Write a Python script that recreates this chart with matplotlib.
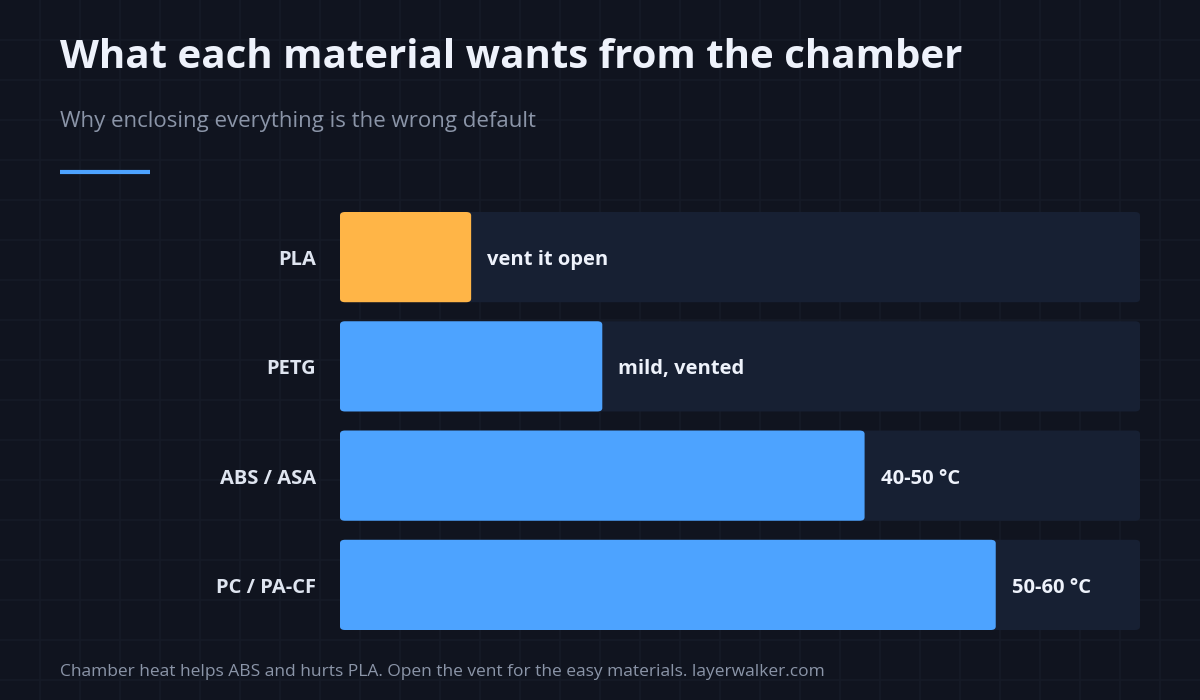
import matplotlib.pyplot as plt
from matplotlib.patches import FancyBboxPatch

materials = ['PLA', 'PETG', 'ABS / ASA', 'PC / PA-CF']
heat_level = [1, 2, 4, 5]
notes = ['vent it open', 'mild, vented', '40-50 °C', '50-60 °C']
bar_colors = ['#ffb547', '#4da3ff', '#4da3ff', '#4da3ff']
x_max = 6.1

plt.rcParams['font.family'] = ['Open Sans', 'Lato', 'DejaVu Sans']

W, H = 1200, 700
fig = plt.figure(figsize=(12, 7), dpi=100)
fig.patch.set_facecolor('#10141f')

# background grid in pixel space
bg = fig.add_axes([0, 0, 1, 1])
bg.set_xlim(0, W)
bg.set_ylim(H, 0)
bg.axis('off')
for gx in range(40, W, 40):
    bg.axvline(gx, color='#161b27', lw=1.2, zorder=0)
for gy in range(40, H, 40):
    bg.axhline(gy, color='#161b27', lw=1.2, zorder=0)

bg.text(60, 58, 'What each material wants from the chamber', color='#eef2fb',
        fontsize=29, fontweight='bold', va='center', ha='left')
bg.text(60, 122, 'Why enclosing everything is the wrong default', color='#8b95a8',
        fontsize=16, va='center', ha='left')
bg.plot([60, 150], [172, 172], color='#4da3ff', lw=3, solid_capstyle='butt')
bg.text(60, 672, 'Chamber heat helps ABS and hurts PLA. Open the vent for the easy materials. layerwalker.com',
        color='#8b95a8', fontsize=12.5, va='center', ha='left')

# bar area
left, right, top, bottom = 340, 1140, 212, 630
ax = fig.add_axes([left / W, 1 - bottom / H, (right - left) / W, (bottom - top) / H])
ax.set_facecolor('none')
ax.axis('off')
ax.set_xlim(0, x_max)
bh = 90 / 109
ax.set_ylim(len(materials) - 1 + bh / 2, -bh / 2)

px_x = (right - left) / x_max
px_y = 109
asp = px_x / px_y
r = 5 / px_x
dy = 3 / px_y

for i, (m, v, n, c) in enumerate(zip(materials, heat_level, notes, bar_colors)):
    track = FancyBboxPatch((0, i - bh / 2), x_max, bh, boxstyle=f'round,pad=0,rounding_size={r}',
                           mutation_aspect=1 / asp, fc='#172033', ec='none', zorder=1)
    ax.add_patch(track)
    bar = FancyBboxPatch((0, i - bh / 2), v, bh, boxstyle=f'round,pad=0,rounding_size={r}',
                         mutation_aspect=1 / asp, fc=c, ec='none', zorder=2)
    ax.add_patch(bar)
    ax.text(v + 16 / px_x, i + dy, n, color='#eef2fb', fontsize=14.5, fontweight='bold',
            va='center', ha='left', zorder=3)
    ax.text(-24 / px_x, i + dy, m, color='#dfe5f0', fontsize=14.5, fontweight='bold',
            va='center', ha='right', zorder=3, clip_on=False)

fig.savefig('out.png', dpi=100, facecolor=fig.get_facecolor())
